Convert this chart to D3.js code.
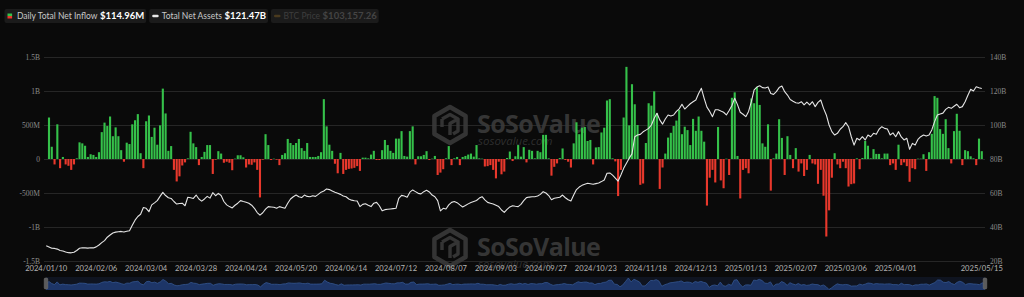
<!DOCTYPE html>
<html>
<head>
<meta charset="utf-8">
<script src="https://cdn.jsdelivr.net/npm/d3@7"></script>
<style>
html, body { margin: 0; padding: 0; background: #0a0a0a; overflow: hidden; }
svg { display: block; }
</style>
</head>
<body>
<div id="chart"></div>
<script>
const W = 1024, H = 297;

// US market holidays in range (trading-day calendar)
const holidays = ["2024-01-15", "2024-02-19", "2024-03-29", "2024-05-27", "2024-06-19", "2024-07-04",
    "2024-09-02", "2024-11-28", "2024-12-25", "2025-01-01", "2025-01-09", "2025-01-20", "2025-02-17", "2025-04-18"];

const xTickLabels = ["2024/01/10", "2024/02/06", "2024/03/04", "2024/03/28", "2024/04/24", "2024/05/20",
    "2024/06/14", "2024/07/12", "2024/08/07", "2024/09/03", "2024/09/27", "2024/10/23", "2024/11/18",
    "2024/12/13", "2025/01/13", "2025/02/07", "2025/03/06", "2025/04/01", "2025/05/15"];

// Daily total net inflow, $M
const netInflow = [
    0, 610, 180, -80, 510, -135, 30, -80, -100, -160,
    -80, 10, 245, 230, 195, 30, 70, 60, 30, 100,
    395, 535, 485, 625, 335, 465, 335, 130, -40, 240,
    220, 510, 570, 660, 85, -135, 555, 640, 325, 460,
    210, 495, 1035, 670, 120, 190, -160, -330, -255, -95,
    -50, 10, 400, 230, 175, -90, 30, 105, 205, 205,
    -220, -10, 115, 80, -55, -40, -55, -165, 5, 55,
    55, 25, -125, -80, -85, -50, -160, -565, -10, 365,
    205, -15, 5, -10, -90, 60, 85, 295, 235, 205,
    235, 295, 160, 120, 235, 30, 30, 30, 45, 100,
    880, 480, 210, 120, -70, -210, 90, -220, -160, -145,
    -140, -130, -105, -175, 20, 20, 10, 65, 120, -15,
    -15, 130, 280, 205, 120, 90, 300, 300, 410, 45,
    35, 410, 480, -80, 40, 40, 60, 115, -15, 5,
    45, -235, -200, -150, 10, 190, -90, 10, 30, -90,
    30, 45, 65, 80, 35, 205, 10, 5, -110, -105,
    -90, -160, -285, -40, -225, -185, 15, 110, -30, 40,
    205, 35, 175, -50, 135, 120, 10, 120, 100, 355,
    355, 10, -245, -115, -65, 15, 155, -15, -40, -125,
    230, 540, 365, 460, 470, 265, 280, -80, 170, 175,
    390, 460, 860, 880, 10, -35, -545, -160, 610, 1355,
    495, 1100, 805, 500, -380, -360, 235, 820, 785, 995,
    675, -440, -125, 80, 315, 385, 485, 565, 720, 365,
    475, 425, 205, 590, 415, 625, 415, 255, -685, -275,
    -160, -345, 470, -315, -430, 5, -235, 900, 980, 45,
    -580, -160, -135, -210, 890, 820, 1060, 795, 230, 180,
    510, -465, 10, 80, 585, 310, -235, 335, 60, -135,
    160, -185, -65, -250, -160, 60, -65, -80, -365, -160,
    -540, -1140, -755, -275, 85, -80, -135, -40, -135, -405,
    -370, -360, 10, -150, 15, 265, 195, 10, 145, 75,
    75, 10, 80, 80, -90, -65, -160, 210, -90, -50,
    -105, -335, -135, -150, 5, 5, 70, -175, 100, 370,
    925, 900, 440, 370, 585, 160, -65, 410, 665, 415,
    -90, 130, 115, 40, 10, -90, 300, 114.96
];

// Total net assets, $B
const netAssets = [
    29.0, 28.3, 27.5, 27.4, 27.0, 26.2, 25.9, 25.3, 24.9, 24.8,
    25.2, 26.2, 27.5, 27.8, 27.7, 27.6, 27.8, 27.7, 28.3, 29.4,
    30.8, 32.0, 34.0, 35.3, 36.5, 37.0, 37.2, 37.4, 37.1, 37.5,
    37.8, 41.0, 44.0, 46.2, 47.5, 51.5, 51.0, 49.0, 53.0, 54.2,
    55.5, 58.0, 60.4, 58.5, 57.2, 56.8, 55.0, 53.5, 53.8, 54.0,
    52.5, 57.5, 57.2, 56.8, 58.8, 56.5, 55.2, 56.5, 58.0, 57.0,
    60.2, 58.4, 59.8, 58.5, 55.0, 53.0, 52.0, 51.2, 52.8, 54.0,
    55.5, 55.0, 54.6, 54.0, 52.8, 51.0, 48.5, 47.0, 48.4, 50.5,
    52.0, 51.8, 51.6, 51.0, 52.0, 51.5, 51.0, 54.0, 56.5, 57.8,
    58.8, 57.8, 57.3, 58.8, 58.0, 57.8, 58.4, 58.0, 59.2, 60.5,
    61.2, 62.4, 62.0, 61.2, 60.4, 59.8, 59.2, 58.2, 57.8, 56.5,
    55.8, 55.4, 55.3, 52.0, 53.3, 53.7, 52.8, 52.0, 54.0, 54.5,
    52.5, 49.5, 50.2, 50.4, 50.6, 50.8, 51.0, 56.9, 58.6, 58.2,
    57.5, 60.5, 61.8, 60.8, 59.8, 59.5, 60.8, 61.6, 60.6, 58.8,
    57.8, 55.5, 49.5, 51.0, 50.6, 53.0, 54.5, 55.0, 54.3, 53.0,
    51.8, 52.6, 53.6, 54.4, 55.0, 55.6, 57.0, 57.8, 56.0, 54.5,
    54.0, 53.5, 52.8, 52.0, 50.0, 48.6, 50.4, 51.8, 52.5, 52.2,
    52.0, 53.3, 55.5, 57.3, 57.6, 57.8, 57.8, 58.2, 59.2, 60.8,
    60.0, 58.5, 56.0, 56.9, 57.2, 57.5, 58.8, 57.2, 56.0, 55.3,
    58.8, 62.0, 63.5, 64.5, 65.2, 65.7, 65.4, 65.1, 65.5, 65.9,
    66.7, 67.6, 71.6, 71.8, 70.5, 68.8, 67.0, 70.6, 74.5, 77.5,
    80.5, 83.0, 93.1, 94.1, 94.5, 96.0, 97.0, 98.0, 100.0, 104.0,
    106.9, 103.0, 100.5, 103.5, 105.9, 105.3, 105.9, 108.0, 109.5, 112.2,
    109.4, 111.0, 112.5, 113.7, 114.7, 118.5, 121.6, 115.7, 110.5, 108.0,
    104.9, 109.0, 109.0, 108.2, 107.5, 105.9, 108.5, 111.5, 115.7, 112.0,
    107.5, 106.3, 104.9, 108.0, 113.7, 120.6, 122.3, 123.1, 122.0, 121.8,
    122.4, 118.5, 118.0, 119.6, 122.0, 122.9, 119.6, 117.6, 115.0, 114.0,
    113.1, 112.8, 113.7, 111.8, 113.5, 111.8, 113.7, 110.8, 113.3, 114.7,
    109.8, 105.9, 100.0, 96.1, 94.1, 95.1, 97.5, 99.0, 101.4, 99.0,
    93.1, 88.2, 92.2, 91.2, 93.1, 91.2, 94.1, 93.1, 95.1, 94.5,
    97.5, 99.0, 98.0, 97.6, 94.1, 95.4, 93.1, 96.1, 93.0, 91.2,
    92.2, 85.7, 89.2, 88.2, 91.5, 93.1, 94.1, 93.5, 94.1, 97.1,
    102.0, 105.9, 106.5, 107.0, 109.2, 110.4, 109.8, 111.0, 112.2, 110.2,
    110.8, 113.7, 117.5, 121.0, 120.0, 122.5, 121.9, 121.47
];

const leftTicks = [-1500, -1000, -500, 0, 500, 1000, 1500];
const leftTickLabels = ["-1.5B", "-1B", "-500M", "0", "500M", "1B", "1.5B"];
const rightTicks = [20, 40, 60, 80, 100, 120, 140];
const rightTickLabels = ["20B", "40B", "60B", "80B", "100B", "120B", "140B"];

const legendLabels = ["Daily Total Net Inflow", "Total Net Assets", "BTC Price"];
const legendValues = ["$114.96M", "$121.47B", "$103,157.26"];

// build the trading-day categories
const fmt = d3.utcFormat("%Y/%m/%d");
const iso = d3.utcFormat("%Y-%m-%d");
const dates = d3.utcDays(new Date(Date.UTC(2024, 0, 10)), new Date(Date.UTC(2025, 4, 16)))
    .filter(d => d.getUTCDay() !== 0 && d.getUTCDay() !== 6 && !holidays.includes(iso(d)))
    .map(fmt);

const svg = d3.select("#chart").append("svg")
    .attr("width", W)
    .attr("height", H);

svg.append("rect").attr("width", W).attr("height", H).attr("fill", "#0a0a0a");

const x = d3.scaleBand().domain(d3.range(dates.length)).range([44.5, 983.5]).padding(0.24);
const yL = d3.scaleLinear().domain([-1500, 1500]).range([261, 57]);
const yR = d3.scaleLinear().domain([20, 140]).range([261, 57]);
const cx = i => x(i) + x.bandwidth() / 2;

// Grid
svg.append("g").selectAll("line")
    .data(leftTicks)
    .join("line")
    .attr("x1", 44).attr("x2", 985)
    .attr("y1", d => Math.round(yL(d)) + 0.5).attr("y2", d => Math.round(yL(d)) + 0.5)
    .attr("stroke", "#262626").attr("stroke-width", 1);

// Watermarks
function watermark(tx, ty) {
    const m = svg.append("g").attr("transform", `translate(${tx},${ty})`).attr("opacity", 0.9);
    const r = 18;
    const hex = d3.range(6).map(k => {
        const a = Math.PI / 3 * k - Math.PI / 2;
        return [r * Math.cos(a), r * Math.sin(a)];
    });
    m.append("path")
        .attr("d", "M" + hex.join("L") + "Z")
        .attr("fill", "none").attr("stroke", "#393939").attr("stroke-width", 4.5)
        .attr("stroke-linejoin", "round");
    m.append("path")
        .attr("d", "M-8,-6 L0,-10.5 L8,-6 L0,-1.5 L0,10 M-8,-6 L-8,2 M8,-6 L8,6 L3,9")
        .attr("fill", "none").attr("stroke", "#393939").attr("stroke-width", 3.5)
        .attr("stroke-linejoin", "round");
    m.append("text")
        .attr("x", 27).attr("y", 8)
        .attr("font-family", "'Open Sans', sans-serif").attr("font-weight", 700)
        .attr("font-size", 25).attr("letter-spacing", -0.6)
        .attr("fill", "#3a3a3a")
        .text("SoSoValue");
    m.append("text")
        .attr("x", 28).attr("y", 20)
        .attr("font-family", "'Open Sans', sans-serif")
        .attr("font-size", 11.5).attr("font-style", "italic")
        .attr("fill", "#333")
        .text("sosovalue.com");
}
watermark(450, 125);
watermark(450, 248);

// Bars
svg.append("g").selectAll("rect")
    .data(netInflow)
    .join("rect")
    .attr("x", (d, i) => x(i))
    .attr("width", x.bandwidth())
    .attr("y", d => yL(Math.max(0, d)))
    .attr("height", d => Math.abs(yL(d) - yL(0)))
    .attr("fill", d => d >= 0 ? "#35c14a" : "#e8382c");

// Total net assets line
svg.append("path")
    .datum(netAssets)
    .attr("d", d3.line().x((d, i) => cx(i)).y(d => yR(d)))
    .attr("fill", "none")
    .attr("stroke", "#e4e4e4")
    .attr("stroke-width", 1.1)
    .attr("stroke-linejoin", "round");

// Axes labels
svg.append("g").selectAll("text")
    .data(leftTicks)
    .join("text")
    .attr("x", 40).attr("y", d => yL(d) + 2.5)
    .attr("text-anchor", "end")
    .attr("font-family", "'Liberation Serif', serif").attr("font-size", 7.5)
    .attr("fill", "#8a8a8a")
    .text((d, i) => leftTickLabels[i]);

svg.append("g").selectAll("text")
    .data(rightTicks)
    .join("text")
    .attr("x", 990).attr("y", d => yR(d) + 2.5)
    .attr("font-family", "'Liberation Serif', serif").attr("font-size", 7.5)
    .attr("fill", "#8a8a8a")
    .text((d, i) => rightTickLabels[i]);

svg.append("g").selectAll("text")
    .data(xTickLabels)
    .join("text")
    .attr("x", d => cx(dates.indexOf(d)))
    .attr("y", 271)
    .attr("text-anchor", "middle")
    .attr("font-family", "Lato, sans-serif").attr("font-size", 7.6)
    .attr("fill", "#b4b4b4")
    .text(d => d);

// Navigator (data shadow of daily inflow)
const navTop = 277, navBot = 290;
const yN = d3.scaleLinear().domain(d3.extent(netInflow)).range([navBot - 0.5, navTop + 1]);
const xN = d3.scaleLinear().domain([0, netInflow.length - 1]).range([46, 985]);
svg.append("rect")
    .attr("x", 46).attr("y", navTop).attr("width", 939).attr("height", navBot - navTop)
    .attr("fill", "#0f1420");
svg.append("path")
    .datum(netInflow)
    .attr("d", d3.area().x((d, i) => xN(i)).y0(navBot).y1(d => yN(d)))
    .attr("fill", "#1d3567");
svg.append("path")
    .datum(netInflow)
    .attr("d", d3.line().x((d, i) => xN(i)).y(d => yN(d)))
    .attr("fill", "none").attr("stroke", "#34568f").attr("stroke-width", 0.8);
svg.append("g").selectAll("rect")
    .data([46, 985])
    .join("rect")
    .attr("x", d => d - 1.8).attr("y", navTop + 1).attr("width", 3.6).attr("height", navBot - navTop - 2)
    .attr("rx", 1.2)
    .attr("fill", "#5b5b5b").attr("stroke", "#777").attr("stroke-width", 0.5);

// Legend
let lx = 4.5;
legendLabels.forEach((lab, i) => {
    const dim = i === 2;
    const g = svg.append("g");
    const box = g.append("rect").attr("x", lx).attr("y", 9).attr("height", 14).attr("rx", 2)
        .attr("fill", "#1b1b1b");
    if (i === 0) {
        g.append("rect").attr("x", lx + 3).attr("y", 13.5).attr("width", 4.6).attr("height", 2.5).attr("fill", "#35c14a");
        g.append("rect").attr("x", lx + 3).attr("y", 16).attr("width", 4.6).attr("height", 2.5).attr("fill", "#e8382c");
    } else {
        g.append("rect").attr("x", lx + 3).attr("y", 14.8).attr("width", 6.5).attr("height", 2.4).attr("rx", 1.2)
            .attr("fill", dim ? "#4a3a1e" : "#e8e8e8");
    }
    const t1 = g.append("text")
        .attr("x", lx + 12.5).attr("y", 19.2)
        .attr("font-family", "Lato, sans-serif").attr("font-size", 8.5)
        .attr("fill", dim ? "#3e3e3e" : "#c9c9c9")
        .text(lab);
    const w1 = t1.node().getComputedTextLength();
    const t2 = g.append("text")
        .attr("x", lx + 12.5 + w1 + 2.5).attr("y", 19.4)
        .attr("font-family", "Lato, sans-serif").attr("font-size", 9.5).attr("font-weight", 700)
        .attr("fill", dim ? "#444" : "#ffffff")
        .text(legendValues[i]);
    const w2 = t2.node().getComputedTextLength();
    const bw = 12.5 + w1 + 2.5 + w2 + 2;
    box.attr("width", bw);
    lx += bw + 3;
});
</script>
</body>
</html>
